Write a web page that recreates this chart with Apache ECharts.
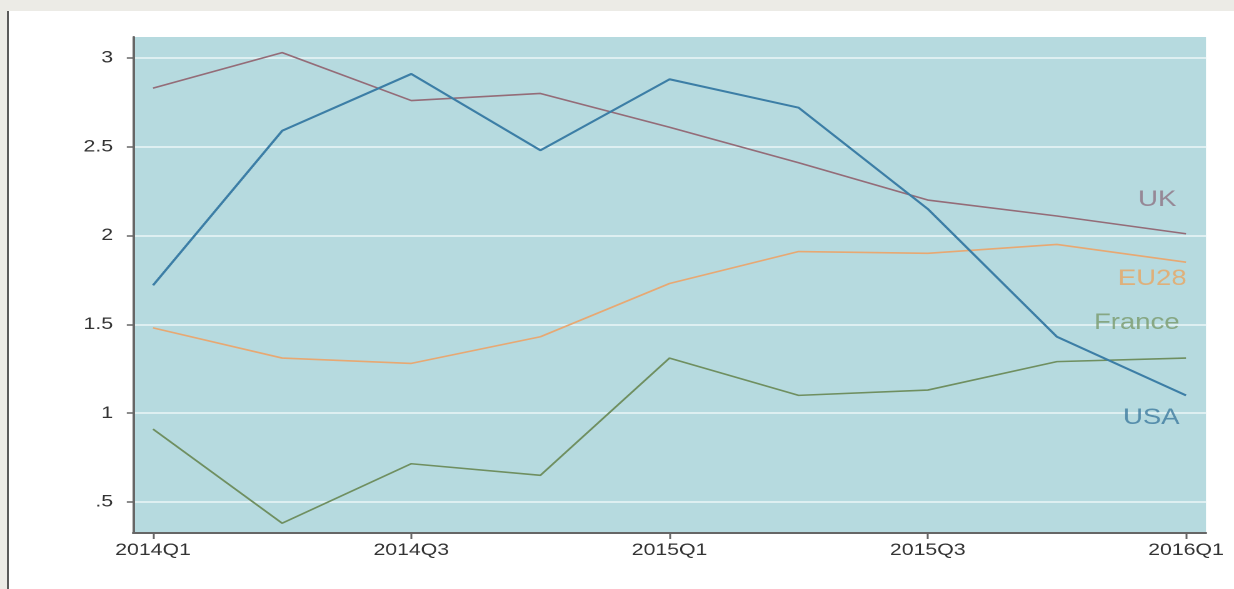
<!DOCTYPE html>
<html>
<head>
<meta charset="utf-8">
<script src="https://cdn.jsdelivr.net/npm/echarts@6/dist/echarts.min.js"></script>
<style>
  html, body { margin: 0; padding: 0; width: 1234px; height: 589px; overflow: hidden; background: #ecebe6; }
  #panel { position: absolute; left: 7px; top: 11px; width: 1227px; height: 578px; background: #ffffff; border-left: 2px solid #5a5a5a; box-sizing: border-box; }
  #chart { position: absolute; left: 0; top: 0; width: 987px; height: 589px; transform: scaleX(1.25025); transform-origin: 0 0; }
</style>
</head>
<body>
<div id="panel"></div>
<div id="chart"></div>
<script>
// Quarters (x positions are the quarter index 0..8)
const quarters = ['2014Q1', '2014Q2', '2014Q3', '2014Q4', '2015Q1', '2015Q2', '2015Q3', '2015Q4', '2016Q1'];
const xTickIndex = [0, 2, 4, 6, 8];
const yTicks = [0.5, 1, 1.5, 2, 2.5, 3];
const yTickLabels = ['.5', '1', '1.5', '2', '2.5', '3'];

// Series values
const ukValues     = [2.83, 3.03, 2.76, 2.80, 2.61, 2.41, 2.20, 2.11, 2.01];
const usaValues    = [1.72, 2.59, 2.91, 2.48, 2.88, 2.72, 2.15, 1.43, 1.10];
const eu28Values   = [1.48, 1.31, 1.28, 1.43, 1.73, 1.91, 1.90, 1.95, 1.85];
const franceValues = [0.91, 0.38, 0.715, 0.65, 1.31, 1.10, 1.13, 1.29, 1.31];

// Line label anchors in data units (quarter index, value)
const labelNames  = ['UK', 'EU28', 'France', 'USA'];
const labelX      = [7.93, 8.01, 7.955, 7.955];
const labelY      = [2.20, 1.755, 1.508, 0.973];

const colors = { UK: '#946c78', USA: '#3c7ea6', EU28: '#e8a872', France: '#6f8f60' };
const labelColors = { UK: '#8e7383', USA: '#3f7b9f', EU28: '#eaa560', France: '#7b9a6c' };

const FONT = '"Liberation Sans", Arial, sans-serif';

function pairs(vals) { return vals.map((v, i) => [i, v]); }

function lineSeries(name, vals, width) {
  return {
    name: name, type: 'line', data: pairs(vals), symbol: 'none',
    lineStyle: { color: colors[name], width: width }, itemStyle: { color: colors[name] },
    z: 3, silent: true, animation: false
  };
}

const chart = echarts.init(document.getElementById('chart'), null, { renderer: 'canvas', devicePixelRatio: 2 });
chart.setOption({
  animation: false,
  backgroundColor: 'transparent',
  grid: {
    left: 106.4, right: 22.4, top: 37, bottom: 56,
    show: true, backgroundColor: '#b6dadf', borderWidth: 0
  },
  xAxis: {
    type: 'value', min: -0.155, max: 8.155,
    axisLine: { show: true, onZero: false, lineStyle: { color: '#666666', width: 2 } },
    axisTick: { show: true, customValues: xTickIndex, length: 6, lineStyle: { color: '#666666', width: 1.5 } },
    axisLabel: {
      customValues: xTickIndex, margin: 9, color: '#333333', fontSize: 17, fontFamily: FONT,
      formatter: function (v) { return quarters[Math.round(v)]; }
    },
    splitLine: { show: false }
  },
  yAxis: {
    type: 'value', min: 0.325, max: 3.118,
    axisLine: { show: true, onZero: false, lineStyle: { color: '#666666', width: 2 } },
    axisTick: { show: true, customValues: yTicks, length: 5, lineStyle: { color: '#666666', width: 1.5 } },
    axisLabel: {
      customValues: yTicks, margin: 16, color: '#333333', fontSize: 17, fontFamily: FONT,
      formatter: function (v) { const i = yTicks.indexOf(+v.toFixed(2)); return i >= 0 ? yTickLabels[i] : ''; }
    },
    splitLine: { show: true, customValues: yTicks, lineStyle: { color: '#deeff1', width: 2 } }
  },
  series: [
    lineSeries('UK', ukValues, 1.6),
    lineSeries('EU28', eu28Values, 1.6),
    lineSeries('France', franceValues, 1.6),
    lineSeries('USA', usaValues, 2),
    {
      name: 'labels', type: 'scatter', symbolSize: 1, silent: true, z: 4,
      itemStyle: { color: 'rgba(0,0,0,0)' },
      data: labelNames.map((n, i) => ({
        value: [labelX[i], labelY[i]], name: n,
        label: { show: true, position: 'left', distance: 0, formatter: n, color: labelColors[n], fontSize: 22, fontFamily: FONT }
      }))
    }
  ]
});
</script>
</body>
</html>
